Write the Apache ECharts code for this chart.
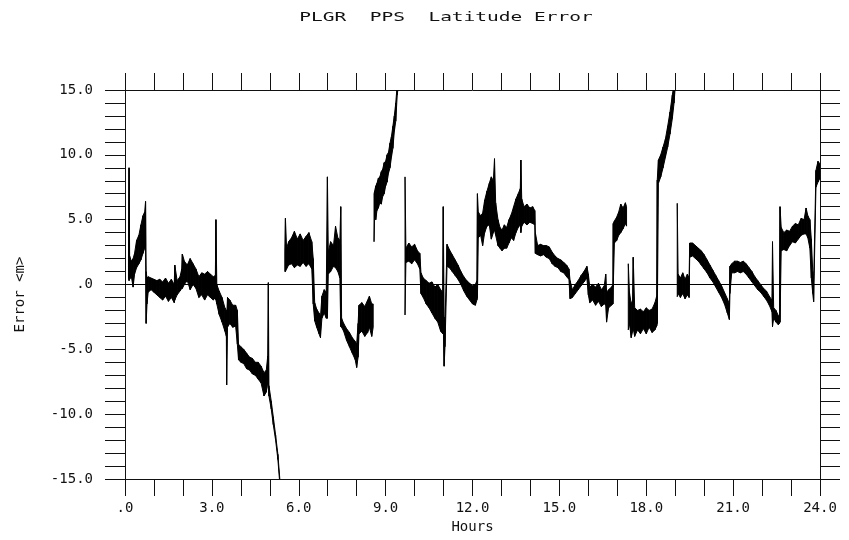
<!DOCTYPE html>
<html>
<head>
<meta charset="utf-8">
<script src="https://cdn.jsdelivr.net/npm/echarts@6/dist/echarts.min.js"></script>
<style>
html,body{margin:0;padding:0;background:#fff;}
#chart{width:849px;height:540px;}
</style>
</head>
<body>
<div id="chart"></div>
<script>
// ---- Data: hours, lower and upper edge of the noisy trace (m) ----
const segAHours = [0.12,0.14,0.16,0.22,0.28,0.33,0.40,0.48,0.55,0.62,0.68,0.71,0.73,0.76,0.80,0.90,1.00,1.10,1.20,1.30,1.40,1.50,1.60,1.70,1.72,1.80,1.90,1.96,1.98,2.05,2.15,2.25,2.35,2.45,2.55,2.65,2.75,2.85,2.95,3.05,3.12,3.14,3.17,3.25,3.35,3.45,3.50,3.51,3.54,3.62,3.72,3.82,3.88,3.92,4.00,4.10,4.20,4.30,4.40,4.50,4.60,4.70,4.80,4.88,4.93,4.95,4.97,5.05,5.12,5.20,5.28,5.35];
const segALow   = [0.5,0.3,0.4,0.6,-0.2,0.8,1.3,1.6,1.9,2.4,2.8,3.0,-3.0,-1.5,-0.6,-0.4,-0.6,-0.8,-1.0,-1.2,-0.9,-1.3,-1.0,-1.4,-1.2,-0.8,-0.5,-0.3,-0.3,0.0,0.3,-0.4,0.0,-0.3,-1.0,-0.8,-1.2,-0.8,-1.0,-1.2,-1.0,-1.2,-1.5,-2.3,-2.9,-3.6,-4.0,-7.75,-3.3,-3.0,-3.3,-3.2,-4.6,-5.8,-6.0,-6.1,-6.5,-6.6,-6.9,-7.0,-7.3,-7.6,-8.6,-8.3,-7.5,-8.0,-8.6,-9.6,-10.8,-12.0,-13.5,-15.5];
const segAHigh  = [2.0,9.0,2.2,1.8,2.0,2.4,3.4,3.8,4.6,5.3,5.6,6.4,1.0,0.5,0.6,0.5,0.4,0.3,0.4,0.2,0.5,0.1,0.4,0.0,1.5,0.3,0.6,1.2,2.35,1.8,1.5,2.0,1.6,1.2,0.6,0.9,0.8,1.0,0.8,0.6,0.7,5.0,0.0,-0.5,-1.0,-1.8,-2.0,-2.5,-1.0,-1.2,-1.6,-1.6,-2.0,-4.6,-4.8,-5.0,-5.3,-5.6,-5.7,-6.0,-6.0,-6.3,-6.8,-6.6,-5.5,0.14,-7.8,-9.0,-10.2,-11.6,-13.1,-15.1];

const segBHours = [5.52,5.54,5.58,5.65,5.75,5.85,5.95,6.05,6.15,6.25,6.35,6.45,6.50,6.55,6.62,6.70,6.75,6.80,6.88,6.95,6.99,7.02,7.10,7.20,7.27,7.35,7.42,7.45,7.48,7.55,7.65,7.75,7.85,7.95,8.00,8.05,8.08,8.18,8.28,8.38,8.44,8.52,8.57];
const segBLow   = [1.0,1.0,1.2,1.5,1.6,1.3,1.5,1.4,1.7,1.4,1.6,1.2,-1.5,-2.8,-3.3,-3.8,-4.1,-2.6,-2.2,-2.6,-2.6,0.8,1.0,1.4,1.3,1.0,0.5,-3.25,-3.3,-3.6,-4.3,-4.8,-5.3,-5.8,-6.4,-5.6,-3.8,-3.6,-4.0,-3.7,-3.3,-4.0,-3.3];
const segBHigh  = [2.5,5.1,2.8,3.3,3.6,4.1,3.5,3.9,3.4,3.7,4.0,3.3,2.0,-1.4,-1.9,-2.2,-2.5,-0.9,-0.4,-0.6,8.3,2.5,3.3,3.0,4.5,3.6,3.4,6.0,-2.6,-3.0,-3.4,-3.7,-4.1,-4.4,-4.6,-3.0,-1.6,-1.4,-1.7,-1.2,-0.9,-1.5,-1.5];

const segB2Hours = [8.60,8.62,8.66,8.70,8.75,8.80,8.85,8.90,8.95,9.00,9.05,9.10,9.15,9.20,9.25,9.30,9.35,9.40,9.45];
const segB2Low   = [3.3,5.2,5.0,5.7,5.9,6.3,6.2,6.8,7.0,7.6,7.9,8.6,9.0,9.8,10.5,11.8,12.6,14.6,15.5];
const segB2High  = [7.0,7.2,7.6,7.8,8.2,8.3,8.7,8.9,9.4,9.5,10.0,10.2,10.9,11.4,12.2,13.0,14.0,15.4,16.0];

const segCHours = [9.67,9.70,9.80,9.90,10.00,10.10,10.18,10.22,10.30,10.40,
  10.50,10.60,10.70,10.80,10.90,10.97,10.99,11.02,11.05,11.12,
  11.20,11.30,11.40,11.50,11.60,11.70,11.80,11.90,12.00,12.10,
  12.15,12.17,12.20,12.28,12.35,12.42,12.50,12.58,12.65,12.72,
  12.76,12.80,12.88,12.95,13.02,13.10,13.18,13.26,13.34,13.42,
  13.50,13.58,13.65,13.67,13.70,13.78,13.88,13.98,14.08,14.15,
  14.17,14.25,14.35,14.45,14.55,14.65,14.75,14.85,14.95,15.05,
  15.15,15.25,15.33,15.37,15.45,15.55,15.65,15.75,15.85,15.95,
  16.00,16.05,16.15,16.25,16.35,16.45,16.55,16.60,16.63,16.70,
  16.80,16.85,16.86,16.90,16.98,17.05,17.12,17.20,17.28,17.32];
const segCLow = [-2.35,1.7,1.8,1.6,1.9,1.6,1.2,-0.7,-1.0,-1.5,
  -1.8,-2.2,-2.6,-2.9,-3.6,-3.8,-3.0,-6.3,-4.8,1.4,
  1.3,1.0,0.7,0.4,0.0,-0.5,-0.9,-1.2,-1.5,-1.6,
  -1.2,-1.0,3.6,3.8,3.0,4.0,4.5,4.6,3.5,4.0,
  4.2,3.8,3.0,2.8,2.6,2.8,2.8,3.2,3.6,3.4,
  4.0,4.4,4.6,4.0,4.5,4.8,4.6,4.8,4.7,4.6,
  2.4,2.3,2.2,2.3,2.1,2.0,1.6,1.4,1.3,1.0,
  0.9,0.6,0.4,-1.1,-1.0,-0.7,-0.4,-0.1,0.2,0.5,
  -0.8,-1.4,-1.2,-1.6,-1.3,-1.7,-1.5,-1.6,-2.9,-1.8,
  -1.6,-1.5,-0.2,3.2,3.4,3.8,4.0,4.3,4.7,4.5];
const segCHigh = [8.3,2.8,3.2,2.9,3.1,2.6,2.4,0.9,0.5,0.3,
  0.1,0.2,-0.2,0.0,-0.4,-0.6,6.0,-2.5,-3.0,3.1,
  2.7,2.3,1.9,1.5,1.0,0.6,0.3,0.1,-0.1,0.0,
  0.3,7.0,5.6,5.3,5.5,6.5,7.2,7.8,8.3,8.0,
  9.7,6.3,5.0,4.4,4.2,4.6,4.4,5.0,5.4,6.0,
  6.6,7.0,7.4,9.6,6.6,6.0,6.2,5.9,6.0,5.7,
  4.0,3.0,3.1,3.0,3.0,2.9,2.5,2.2,2.0,1.9,
  1.7,1.5,1.2,0.3,-0.4,0.0,0.3,0.7,1.0,1.4,
  0.8,-0.2,0.0,-0.2,0.1,-0.4,-0.1,0.8,-0.6,-0.4,
  -0.2,0.0,4.7,4.9,5.2,5.6,6.2,5.9,6.3,6.0];

const segC2Hours = [17.38,17.42,17.48,17.53,17.55,17.60,17.70,17.80,17.90,18.00,18.10,18.20,18.30,18.36,18.38,18.42,18.50,18.58,18.66,18.74,18.82,18.90,18.96,19.00];
const segC2Low   = [-3.5,-3.0,-4.1,-3.6,-3.4,-4.0,-3.5,-3.8,-3.4,-3.8,-3.3,-3.7,-3.5,-3.2,-3.0,7.8,8.3,9.0,9.8,10.6,11.6,12.8,14.0,15.2];
const segC2High  = [1.6,-0.6,-1.5,-1.2,2.1,-1.8,-2.0,-1.9,-2.1,-1.8,-2.0,-1.9,-1.4,-0.9,8.06,9.6,10.0,10.6,11.2,12.2,13.3,14.6,15.5,16.0];

const segDHours = [19.07,19.10,19.18,19.26,19.34,19.42,19.48,19.50,19.60,19.70,19.80,19.90,20.00,20.10,20.20,20.30,20.40,20.50,20.60,20.70,20.80,20.87,20.89,20.95,21.05,21.15,21.25,21.35,21.45,21.55,21.65,21.75,21.85,21.95,22.05,22.15,22.25,22.34,22.36,22.40,22.48,22.56,22.60,22.62,22.66,22.75,22.85,22.95,23.05,23.15,23.25,23.35,23.45,23.52,23.58,23.65,23.70,23.75,23.78,23.86,23.93,24.00];
const segDLow   = [-0.94,-0.7,-1.0,-0.7,-1.1,-0.8,-1.0,2.1,2.2,2.0,1.8,1.5,1.2,0.9,0.5,0.2,-0.2,-0.6,-1.0,-1.5,-2.2,-2.7,-0.7,0.9,0.9,1.0,0.9,1.0,0.8,0.5,0.2,-0.1,-0.4,-0.6,-0.9,-1.2,-1.6,-2.1,-3.25,-2.6,-2.9,-3.1,-3.0,-2.9,2.6,2.7,2.6,3.0,3.3,3.2,3.5,3.8,3.9,3.9,3.6,2.8,0.5,-0.7,-1.33,7.5,7.9,8.2];
const segDHigh  = [6.26,0.8,0.5,0.9,0.4,0.8,0.5,3.2,3.2,3.0,2.8,2.6,2.3,1.9,1.5,1.1,0.7,0.3,-0.1,-0.6,-1.1,-1.5,1.4,1.6,1.8,1.8,1.7,1.8,1.6,1.3,1.0,0.6,0.3,0.0,-0.3,-0.5,-0.9,-1.2,3.3,-1.8,-2.0,-2.4,-2.5,6.0,4.4,4.0,4.2,4.1,4.5,4.7,4.6,5.1,5.0,5.9,5.3,5.0,3.5,1.0,0.0,8.8,9.5,9.3];

// ---- Tick labels ----
const xLabelValues = [0,3,6,9,12,15,18,21,24];
const xLabelTexts  = ['.0','3.0','6.0','9.0','12.0','15.0','18.0','21.0','24.0'];
const yLabelValues = [-15,-10,-5,0,5,10,15];
const yLabelTexts  = ['-15.0','-10.0','-5.0','.0','5.0','10.0','15.0'];

const titleText = 'PLGR  PPS  Latitude Error';
const xName = 'Hours';
const yName = 'Error <m>';

// ---- build band pieces (consecutive samples of each recorded segment) ----
const segments = [
  [segAHours, segALow, segAHigh],
  [segBHours, segBLow, segBHigh],
  [segB2Hours, segB2Low, segB2High],
  [segCHours, segCLow, segCHigh],
  [segC2Hours, segC2Low, segC2High],
  [segDHours, segDLow, segDHigh]
];
const pieces = [];
segments.forEach(function (s, i) {
  if (s[0].length !== s[1].length || s[0].length !== s[2].length) {
    throw new Error('segment ' + i + ' length mismatch ' + s[0].length + ' ' + s[1].length + ' ' + s[2].length);
  }
  for (let k = 0; k + 1 < s[0].length; k++) {
    pieces.push([s[0][k], s[1][k], s[2][k], s[0][k + 1], s[1][k + 1], s[2][k + 1]]);
  }
});

const FONT = '"DejaVu Sans Mono", "Liberation Mono", monospace';
const INK = '#111';

function xLab(v) { const i = xLabelValues.indexOf(Math.round(v * 1000) / 1000); return i >= 0 ? xLabelTexts[i] : ''; }
function yLab(v) { const i = yLabelValues.indexOf(Math.round(v * 1000) / 1000); return i >= 0 ? yLabelTexts[i] : ''; }

const axisLine = { show: true, onZero: false, lineStyle: { color: INK, width: 1 } };

function renderPiece(params, api) {
  const a = api.coord([api.value(0), api.value(1)]);
  const b = api.coord([api.value(0), api.value(2)]);
  const c = api.coord([api.value(3), api.value(5)]);
  const d = api.coord([api.value(3), api.value(4)]);
  const cs = params.coordSys;
  return {
    type: 'polygon',
    shape: { points: [a, b, c, d] },
    style: { fill: '#000', stroke: '#000', lineWidth: 1 },
    clipPath: { type: 'rect', shape: { x: cs.x, y: cs.y, width: cs.width, height: cs.height } }
  };
}

const chart = echarts.init(document.getElementById('chart'));
chart.setOption({
  animation: false,
  backgroundColor: '#fff',
  graphic: [{
    type: 'text',
    x: 446, y: 18,
    scaleX: 1.5,
    style: { text: titleText, font: '13px ' + FONT, fill: INK, align: 'center', verticalAlign: 'middle' }
  }],
  grid: { left: 125, right: 29, top: 90, bottom: 61, containLabel: false },
  xAxis: [{
    type: 'value', position: 'bottom', min: 0, max: 24, interval: 1,
    axisLine: axisLine,
    axisTick: { show: true, inside: false, length: 17, lineStyle: { color: INK, width: 1 } },
    axisLabel: { formatter: xLab, margin: 22, fontFamily: FONT, fontSize: 14, color: INK },
    splitLine: { show: false },
    name: xName, nameLocation: 'middle', nameGap: 40,
    nameTextStyle: { fontFamily: FONT, fontSize: 14, color: INK }
  }, {
    type: 'value', position: 'top', min: 0, max: 24, interval: 1,
    axisLine: axisLine,
    axisTick: { show: true, inside: false, length: 17, lineStyle: { color: INK, width: 1 } },
    axisLabel: { show: false },
    splitLine: { show: false }
  }],
  yAxis: [{
    type: 'value', position: 'left', min: -15, max: 15, interval: 1,
    axisLine: axisLine,
    axisTick: { show: true, inside: false, length: 20, lineStyle: { color: INK, width: 1 } },
    axisLabel: { formatter: yLab, margin: 32, fontFamily: FONT, fontSize: 14, color: INK },
    splitLine: { show: false },
    name: yName, nameLocation: 'middle', nameGap: 98, nameRotate: 90,
    nameTextStyle: { fontFamily: FONT, fontSize: 14, color: INK, padding: [0, 20, 0, 0] }
  }, {
    type: 'value', position: 'right', min: -15, max: 15, interval: 1,
    axisLine: axisLine,
    axisTick: { show: true, inside: false, length: 20, lineStyle: { color: INK, width: 1 } },
    axisLabel: { show: false },
    splitLine: { show: false }
  }],
  series: [{
    name: 'Latitude Error', type: 'custom', xAxisIndex: 0, yAxisIndex: 0,
    data: pieces, renderItem: renderPiece, clip: true, z: 3,
    encode: { x: [0, 3], y: [1, 2, 4, 5] },
    markLine: {
      silent: true, symbol: 'none', label: { show: false },
      lineStyle: { color: '#000', width: 1, type: 'solid' },
      data: [{ yAxis: 0 }]
    }
  }]
});
</script>
</body>
</html>
